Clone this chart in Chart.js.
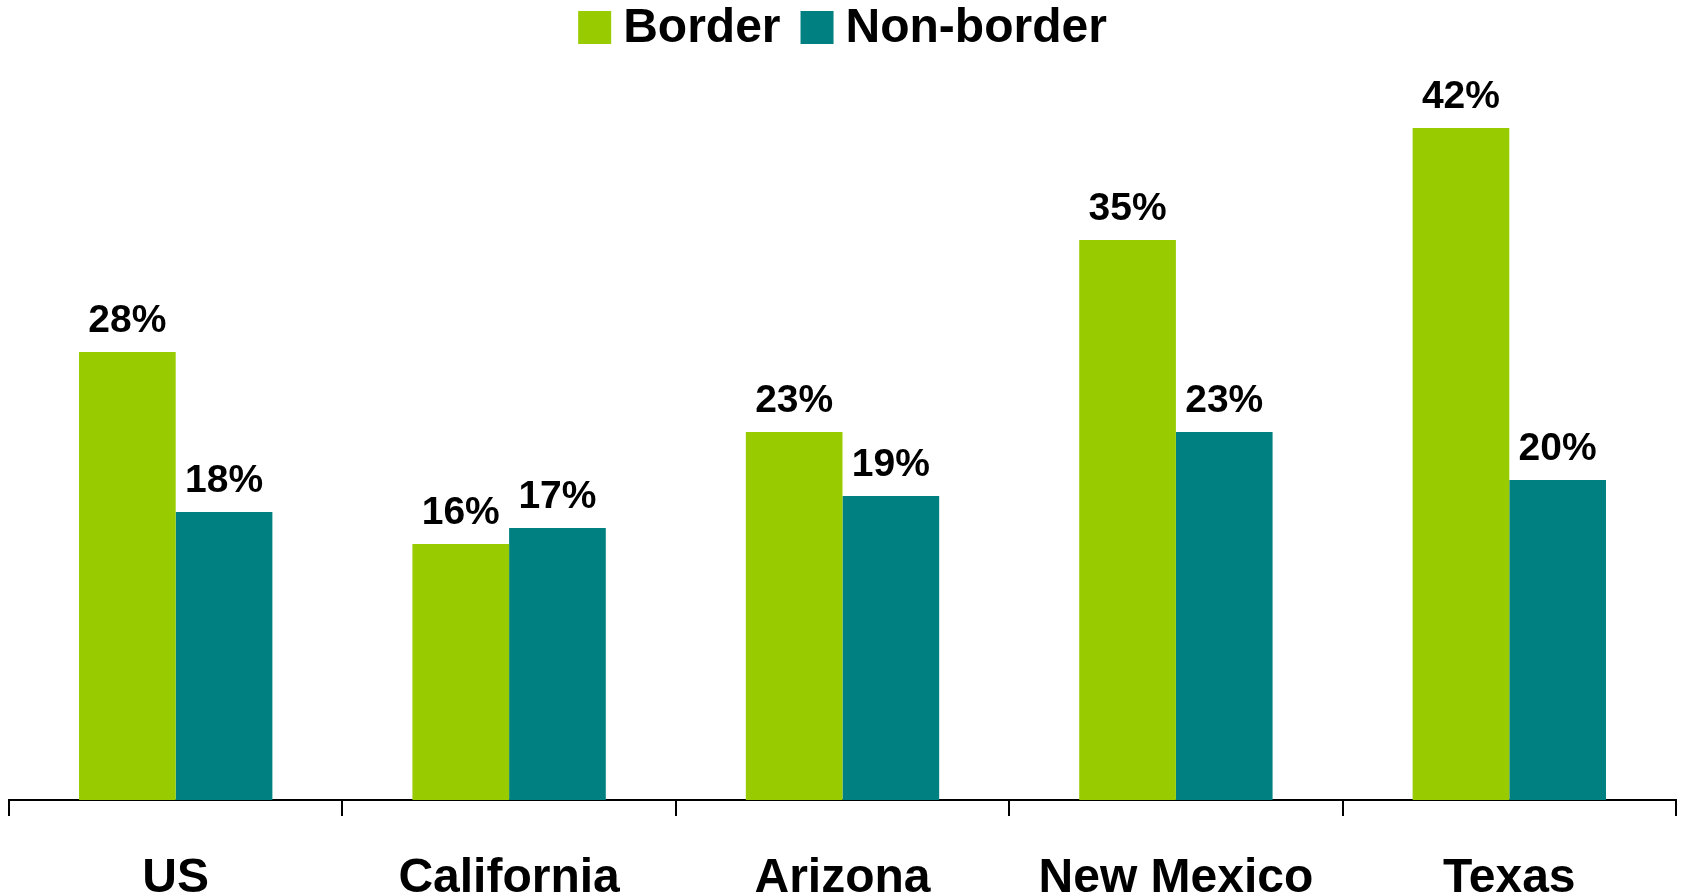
<!DOCTYPE html>
<html>
<head>
<meta charset="utf-8">
<script src="https://cdn.jsdelivr.net/npm/chart.js@4"></script>
<style>
  html, body { margin: 0; padding: 0; background: #fff; }
  #wrap { width: 1682px; height: 894px; }
</style>
</head>
<body>
<div id="wrap"><canvas id="c" width="1682" height="894"></canvas></div>
<script>
const categories = ['US', 'California', 'Arizona', 'New Mexico', 'Texas'];
const seriesNames = ['Border', 'Non-border'];
const borderValues = [28, 16, 23, 35, 42];
const nonBorderValues = [18, 17, 19, 23, 20];
const seriesColors = ['#99CC00', '#008080'];

const FONT = "'Liberation Sans', Arial, Helvetica, sans-serif";

const legendPlugin = {
  id: 'customLegend',
  afterDraw(chart) {
    const ctx = chart.ctx;
    const box = 33, gapText = 12, gapItem = 20;
    ctx.save();
    ctx.font = 'bold 48px ' + FONT;
    ctx.textBaseline = 'middle';
    ctx.textAlign = 'left';
    const items = chart.data.datasets.map(d => ({ text: d.label, color: d.backgroundColor, w: ctx.measureText(d.label).width }));
    let total = 0;
    items.forEach((it, i) => { total += box + gapText + it.w + (i < items.length - 1 ? gapItem : 0); });
    const cx = (chart.chartArea.left + chart.chartArea.right) / 2;
    let x = cx - total / 2;
    const boxTop = 11, textY = 29;
    items.forEach(it => {
      ctx.fillStyle = it.color;
      ctx.fillRect(x, boxTop, box, box);
      x += box + gapText;
      ctx.fillStyle = '#000';
      ctx.fillText(it.text, x, textY);
      x += it.w + gapItem;
    });
    ctx.restore();
  }
};

const valueLabelPlugin = {
  id: 'valueLabels',
  afterDatasetsDraw(chart) {
    const ctx = chart.ctx;
    ctx.save();
    ctx.font = 'bold 39px ' + FONT;
    ctx.fillStyle = '#000';
    ctx.textAlign = 'center';
    ctx.textBaseline = 'middle';
    chart.data.datasets.forEach((ds, di) => {
      const meta = chart.getDatasetMeta(di);
      meta.data.forEach((bar, i) => {
        ctx.fillText(ds.data[i] + '%', bar.x, bar.y - 31);
      });
    });
    ctx.restore();
  }
};

new Chart(document.getElementById('c'), {
  type: 'bar',
  data: {
    labels: categories,
    datasets: [
      { label: seriesNames[0], data: borderValues, backgroundColor: seriesColors[0], borderWidth: 0 },
      { label: seriesNames[1], data: nonBorderValues, backgroundColor: seriesColors[1], borderWidth: 0 }
    ]
  },
  options: {
    responsive: false,
    animation: false,
    devicePixelRatio: 1,
    layout: { padding: { top: 64, left: 9, right: 6, bottom: 0 } },
    plugins: { legend: { display: false }, tooltip: { enabled: false } },
    datasets: { bar: { barPercentage: 1.0, categoryPercentage: 0.58 } },
    scales: {
      x: {
        grid: { display: true, drawOnChartArea: false, drawTicks: true, tickLength: 16, color: '#000', lineWidth: 2, offset: true },
        border: { display: true, color: '#000', width: 2 },
        ticks: { color: '#000', padding: 39, font: { family: FONT, size: 48, weight: 'bold', lineHeight: 1 } },
        afterFit(scale) { scale.height = 94; }
      },
      y: { display: false, min: 0, max: 46 }
    }
  },
  plugins: [legendPlugin, valueLabelPlugin]
});
</script>
</body>
</html>
